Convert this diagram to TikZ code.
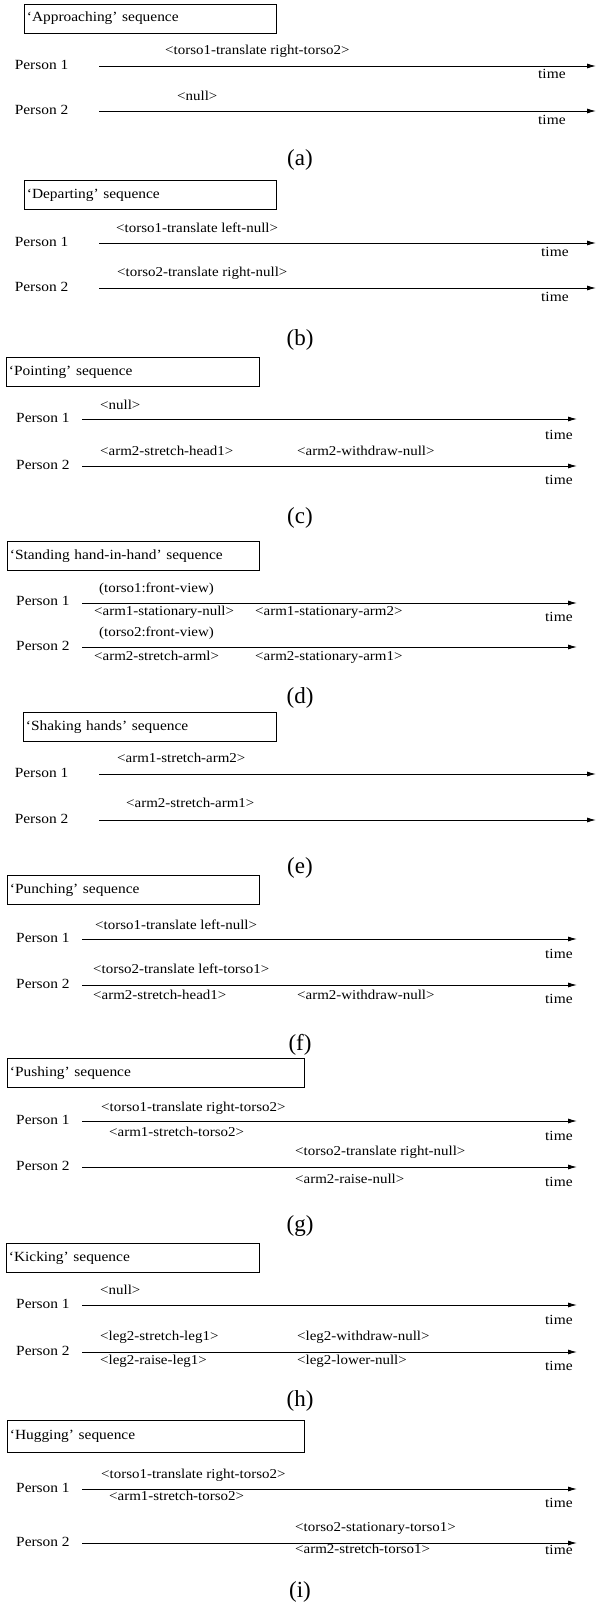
\documentclass[tikz,border=0pt]{standalone}
\usepackage{fontspec}
\setmainfont{Liberation Serif}
\newfontfamily\widefont{Liberation Serif}[FakeStretch=1.1]
\usepackage{tikz}
\usetikzlibrary{arrows.meta,positioning}
\newcommand\lblfont{\widefont\fontsize{13.6}{15}\selectfont}
\newcommand\boxfont{\widefont\fontsize{14}{16}\selectfont}
\newcommand\personfont{\widefont\fontsize{14}{16}\selectfont}
\newcommand\capfont{\fontsize{23}{25}\selectfont}
\tikzset{
    seqbox/.style={draw, line width=0.8pt, anchor=north west, inner xsep=2.5pt, inner ysep=0pt, minimum height=29pt, text width=#1, align=left, font=\boxfont},
    personlabel/.style={anchor=west, inner sep=0pt, font=\personfont, text height=0.68em, text depth=0pt},
    actlabel/.style={anchor=west, inner sep=0pt, font=\lblfont, text height=0.7em, text depth=0.2em},
    timelabel/.style={anchor=west, inner sep=0pt, font=\personfont, text height=0.7em, text depth=0pt},
    sublabel/.style={inner sep=0pt, font=\capfont},
    timearrow/.style={-{Latex[length=9pt,width=5pt]}, line width=0.9pt}
}

\begin{document}
\begin{tikzpicture}[x=1pt, y=-1pt]
    \useasboundingbox (0,0) rectangle (601,1606);
    % (a) approaching
    \node[seqbox=247pt, minimum height=29pt] (a-box) at (24,3.5) {‘Approaching’ sequence};
    \node[personlabel] (a-p1) at (14.6,66) {Person 1};
    \node[personlabel] (a-p2) at (14.6,111) {Person 2};
    \coordinate (a1s) at (99,66);  \coordinate (a1e) at (596,66);
    \coordinate (a2s) at (99,111); \coordinate (a2e) at (596,111);
    \draw[timearrow] (a1s) -- (a1e);
    \draw[timearrow] (a2s) -- (a2e);
    \node[actlabel] (a-l1) at (165,52) {<torso1-translate right-torso2>};
    \node[actlabel] (a-l2) at (177,98) {<null>};
    \node[timelabel] (a-t1) at (538,75) {time};
    \node[timelabel] (a-t2) at (538,121) {time};
    \node[sublabel] (a-cap) at (300,160) {(a)};

    % (b) departing
    \node[seqbox=247pt] (b-box) at (24,180) {‘Departing’ sequence};
    \node[personlabel] (b-p1) at (14.6,243) {Person 1};
    \node[personlabel] (b-p2) at (14.6,288) {Person 2};
    \coordinate (b1s) at (99,243); \coordinate (b1e) at (596,243);
    \coordinate (b2s) at (99,288); \coordinate (b2e) at (596,288);
    \draw[timearrow] (b1s) -- (b1e);
    \draw[timearrow] (b2s) -- (b2e);
    \node[actlabel] (b-l1) at (116,230) {<torso1-translate left-null>};
    \node[actlabel] (b-l2) at (117,274) {<torso2-translate right-null>};
    \node[timelabel] (b-t1) at (541,253) {time};
    \node[timelabel] (b-t2) at (541,298) {time};
    \node[sublabel] (b-cap) at (300,340) {(b)};

    % (c) pointing
    \node[seqbox=248pt] (c-box) at (6,357) {‘Pointing’ sequence};
    \node[personlabel] (c-p1) at (16,419) {Person 1};
    \node[personlabel] (c-p2) at (16,466) {Person 2};
    \coordinate (c1s) at (82,419); \coordinate (c1e) at (577,419);
    \coordinate (c2s) at (82,466); \coordinate (c2e) at (577,466);
    \draw[timearrow] (c1s) -- (c1e);
    \draw[timearrow] (c2s) -- (c2e);
    \node[actlabel] (c-l1) at (100,407) {<null>};
    \node[actlabel] (c-l2) at (100,453) {<arm2-stretch-head1>};
    \node[actlabel] (c-l3) at (297,453) {<arm2-withdraw-null>};
    \node[timelabel] (c-t1) at (545,436) {time};
    \node[timelabel] (c-t2) at (545,481) {time};
    \node[sublabel] (c-cap) at (300,518) {(c)};

    % (d) standing hand-in-hand
    \node[seqbox=247pt] (d-box) at (7,541) {‘Standing hand-in-hand’ sequence};
    \node[personlabel] (d-p1) at (16,602) {Person 1};
    \node[personlabel] (d-p2) at (16,647) {Person 2};
    \coordinate (d1s) at (82,603); \coordinate (d1e) at (577,603);
    \coordinate (d2s) at (82,647); \coordinate (d2e) at (577,647);
    \draw[timearrow] (d1s) -- (d1e);
    \draw[timearrow] (d2s) -- (d2e);
    \node[actlabel] (d-l1) at (99,590) {(torso1:front-view)};
    \node[actlabel] (d-l2) at (94,613) {<arm1-stationary-null>};
    \node[actlabel] (d-l3) at (255,613) {<arm1-stationary-arm2>};
    \node[actlabel] (d-l4) at (99,634) {(torso2:front-view)};
    \node[actlabel] (d-l5) at (94,658) {<arm2-stretch-arml>};
    \node[actlabel] (d-l6) at (255,658) {<arm2-stationary-arm1>};
    \node[timelabel] (d-t1) at (545,618) {time};
    \node[sublabel] (d-cap) at (300,698) {(d)};

    % (e) shaking hands
    \node[seqbox=248pt] (e-box) at (23,712) {‘Shaking hands’ sequence};
    \node[personlabel] (e-p1) at (14.6,774) {Person 1};
    \node[personlabel] (e-p2) at (14.6,820) {Person 2};
    \coordinate (e1s) at (99,774); \coordinate (e1e) at (596,774);
    \coordinate (e2s) at (99,820); \coordinate (e2e) at (596,820);
    \draw[timearrow] (e1s) -- (e1e);
    \draw[timearrow] (e2s) -- (e2e);
    \node[actlabel] (e-l1) at (117,760) {<arm1-stretch-arm2>};
    \node[actlabel] (e-l2) at (126,805) {<arm2-stretch-arm1>};
    \node[sublabel] (e-cap) at (300,868) {(e)};

    % (f) punching
    \node[seqbox=247pt] (f-box) at (7,875) {‘Punching’ sequence};
    \node[personlabel] (f-p1) at (16,939) {Person 1};
    \node[personlabel] (f-p2) at (16,985) {Person 2};
    \coordinate (f1s) at (82,939); \coordinate (f1e) at (577,939);
    \coordinate (f2s) at (82,985); \coordinate (f2e) at (577,985);
    \draw[timearrow] (f1s) -- (f1e);
    \draw[timearrow] (f2s) -- (f2e);
    \node[actlabel] (f-l1) at (95,927) {<torso1-translate left-null>};
    \node[actlabel] (f-l2) at (93,971) {<torso2-translate left-torso1>};
    \node[actlabel] (f-l3) at (93,997) {<arm2-stretch-head1>};
    \node[actlabel] (f-l4) at (297,997) {<arm2-withdraw-null>};
    \node[timelabel] (f-t1) at (545,955) {time};
    \node[timelabel] (f-t2) at (545,1000) {time};
    \node[sublabel] (f-cap) at (300,1045) {(f)};

    % (g) pushing
    \node[seqbox=292pt] (g-box) at (7,1058) {‘Pushing’ sequence};
    \node[personlabel] (g-p1) at (16,1121) {Person 1};
    \node[personlabel] (g-p2) at (16,1167) {Person 2};
    \coordinate (g1s) at (82,1121); \coordinate (g1e) at (577,1121);
    \coordinate (g2s) at (82,1167); \coordinate (g2e) at (577,1167);
    \draw[timearrow] (g1s) -- (g1e);
    \draw[timearrow] (g2s) -- (g2e);
    \node[actlabel] (g-l1) at (101,1109) {<torso1-translate right-torso2>};
    \node[actlabel] (g-l2) at (109,1134) {<arm1-stretch-torso2>};
    \node[actlabel] (g-l3) at (295,1153) {<torso2-translate right-null>};
    \node[actlabel] (g-l4) at (295,1181) {<arm2-raise-null>};
    \node[timelabel] (g-t1) at (545,1137) {time};
    \node[timelabel] (g-t2) at (545,1183) {time};
    \node[sublabel] (g-cap) at (300,1226) {(g)};

    % (h) kicking
    \node[seqbox=248pt] (h-box) at (6,1243) {‘Kicking’ sequence};
    \node[personlabel] (h-p1) at (16,1305) {Person 1};
    \node[personlabel] (h-p2) at (16,1352) {Person 2};
    \coordinate (h1s) at (82,1305); \coordinate (h1e) at (577,1305);
    \coordinate (h2s) at (82,1352); \coordinate (h2e) at (577,1352);
    \draw[timearrow] (h1s) -- (h1e);
    \draw[timearrow] (h2s) -- (h2e);
    \node[actlabel] (h-l1) at (100,1292) {<null>};
    \node[actlabel] (h-l2) at (100,1338) {<leg2-stretch-leg1>};
    \node[actlabel] (h-l3) at (297,1338) {<leg2-withdraw-null>};
    \node[actlabel] (h-l4) at (100,1362) {<leg2-raise-leg1>};
    \node[actlabel] (h-l5) at (297,1362) {<leg2-lower-null>};
    \node[timelabel] (h-t1) at (545,1321) {time};
    \node[timelabel] (h-t2) at (545,1367) {time};
    \node[sublabel] (h-cap) at (300,1401) {(h)};

    % (i) hugging
    \node[seqbox=292pt, minimum height=32pt] (i-box) at (7,1420) {‘Hugging’ sequence};
    \node[personlabel] (i-p1) at (16,1489) {Person 1};
    \node[personlabel] (i-p2) at (16,1543) {Person 2};
    \coordinate (i1s) at (82,1489); \coordinate (i1e) at (577,1489);
    \coordinate (i2s) at (82,1543); \coordinate (i2e) at (577,1543);
    \draw[timearrow] (i1s) -- (i1e);
    \draw[timearrow] (i2s) -- (i2e);
    \node[actlabel] (i-l1) at (101,1476) {<torso1-translate right-torso2>};
    \node[actlabel] (i-l2) at (109,1498) {<arm1-stretch-torso2>};
    \node[actlabel] (i-l3) at (295,1529) {<torso2-stationary-torso1>};
    \node[actlabel] (i-l4) at (295,1551) {<arm2-stretch-torso1>};
    \node[timelabel] (i-t1) at (545,1504) {time};
    \node[timelabel] (i-t2) at (545,1551) {time};
    \node[sublabel] (i-cap) at (300,1592) {(i)};
\end{tikzpicture}
\end{document}
